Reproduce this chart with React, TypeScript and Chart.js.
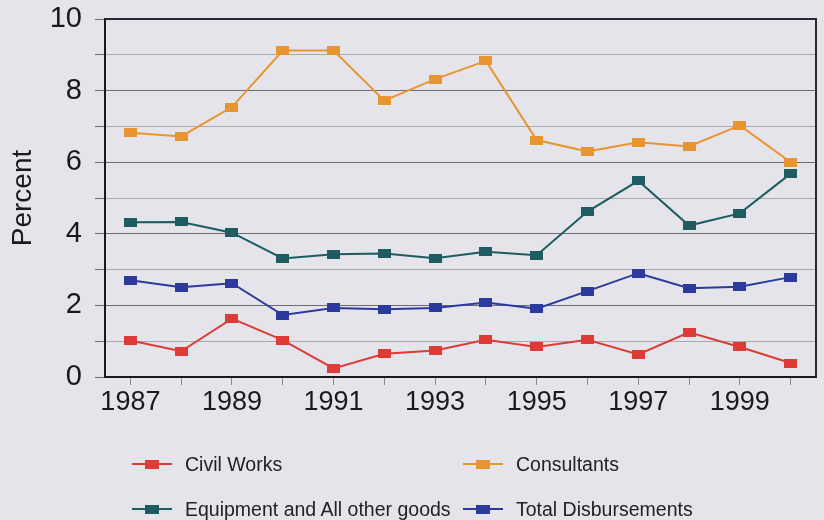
import React, { useEffect, useRef } from "react";
import { Chart, registerables } from "chart.js";

Chart.register(...registerables);

const years = ["1987","1988","1989","1990","1991","1992","1993","1994","1995","1996","1997","1998","1999","2000"];
const civilWorks = [1.02, 0.72, 1.63, 1.03, 0.24, 0.65, 0.74, 1.04, 0.84, 1.04, 0.63, 1.25, 0.84, 0.39];
const consultants = [6.82, 6.72, 7.54, 9.12, 9.12, 7.72, 8.32, 8.83, 6.62, 6.3, 6.56, 6.44, 7.03, 6.0];
const equipment = [4.32, 4.33, 4.03, 3.31, 3.43, 3.45, 3.32, 3.5, 3.4, 4.62, 5.48, 4.23, 4.57, 5.68];
const totalDisb = [2.7, 2.51, 2.62, 1.73, 1.93, 1.89, 1.93, 2.08, 1.91, 2.4, 2.9, 2.48, 2.52, 2.79];
const yTicks = [0, 2, 4, 6, 8, 10];

const seriesNames = ["Civil Works", "Consultants", "Equipment and All other goods", "Total Disbursements"];
const seriesColors = ["#de3b36", "#e8952f", "#1e5c62", "#2b3a9c"];

const BG = "#e4e4ea";
const FONT = "'Liberation Sans', Arial, Helvetica, sans-serif";

function makeRect(color: string, w: number, h: number) {
  const c = document.createElement("canvas");
  c.width = w;
  c.height = h;
  const g = c.getContext("2d")!;
  g.fillStyle = color;
  g.fillRect(0, 0, w, h);
  return c;
}

const framePlugin = {
  id: "frame",
  afterDatasetsDraw(chart: any) {
    const { ctx, chartArea } = chart;
    ctx.save();
    ctx.strokeStyle = "#2a2530";
    ctx.lineWidth = 2;
    ctx.beginPath();
    ctx.moveTo(chartArea.left, chartArea.top);
    ctx.lineTo(chartArea.right, chartArea.top);
    ctx.lineTo(chartArea.right, chartArea.bottom);
    ctx.stroke();
    ctx.restore();
  },
};

function LegendItem({ name, color, x, y }: { name: string; color: string; x: number; y: number }) {
  return (
    <div style={{ position: "absolute", left: x, top: y - 12, height: 24, display: "flex", alignItems: "center" }}>
      <div style={{ position: "relative", width: 40, height: 24, marginRight: 13 }}>
        <div style={{ position: "absolute", left: 0, top: 11, width: 40, height: 2, background: color }} />
        <div style={{ position: "absolute", left: 13, top: 7.5, width: 14, height: 9, background: color }} />
      </div>
      <span style={{ fontFamily: FONT, fontSize: 19.5, color: "#222", whiteSpace: "nowrap" }}>{name}</span>
    </div>
  );
}

export default function App() {
  const ref = useRef<HTMLCanvasElement | null>(null);

  useEffect(() => {
    if (!ref.current) return;
    const data = [civilWorks, consultants, equipment, totalDisb];
    const chart = new Chart(ref.current, {
      type: "line",
      data: {
        labels: years,
        datasets: data.map((d, i) => ({
          label: seriesNames[i],
          data: d,
          borderColor: seriesColors[i],
          backgroundColor: seriesColors[i],
          borderWidth: 2,
          pointStyle: makeRect(seriesColors[i], 13, 9) as any,
          pointRadius: 6,
          tension: 0,
        })),
      },
      options: {
        animation: false,
        responsive: false,
        devicePixelRatio: 1,
        layout: { padding: { left: 0, right: 6, top: 19, bottom: 0 } },
        plugins: { legend: { display: false }, tooltip: { enabled: false } },
        scales: {
          x: {
            type: "category",
            offset: true,
            grid: {
              offset: false,
              drawOnChartArea: false,
              drawTicks: true,
              tickLength: 8,
              tickColor: "#8a8a90",
            },
            border: { color: "#1a1a1a", width: 2 },
            ticks: {
              autoSkip: false,
              maxRotation: 0,
              padding: 1,
              color: "#1a1a1a",
              font: { family: FONT, size: 27 },
              callback: (_v: any, i: number) => (i % 2 === 0 ? years[i] : ""),
            },
            afterFit: (s: any) => {
              s.height = 143;
            },
          },
          y: {
            min: 0,
            max: 10,
            grid: {
              color: (c: any) => (c.tick && c.tick.value % 2 === 0 ? "#6c6c72" : "#a8a8b0"),
              lineWidth: 1,
              drawTicks: true,
              tickLength: 10,
              tickColor: "#6c6c72",
            },
            border: { color: "#1a1a1a", width: 2 },
            ticks: {
              stepSize: 1,
              autoSkip: false,
              padding: 13,
              color: "#1a1a1a",
              font: { family: FONT, size: 29 },
              callback: (v: any) => (yTicks.includes(Number(v)) ? String(v) : ""),
            },
            title: {
              display: true,
              text: "Percent",
              color: "#1a1a1a",
              font: { family: FONT, size: 28 },
              padding: { top: 6, bottom: 0 },
            },
            afterFit: (s: any) => {
              s.width = 105;
              s.paddingTop = 0;
              s.paddingBottom = 0;
            },
          },
        },
      },
      plugins: [framePlugin],
    });
    return () => chart.destroy();
  }, []);

  return (
    <div style={{ position: "absolute", left: 0, top: 0, width: 824, height: 520, background: BG, overflow: "hidden" }}>
      <canvas ref={ref} width={824} height={520} style={{ position: "absolute", left: 0, top: 0 }} />
      <LegendItem name={seriesNames[0]} color={seriesColors[0]} x={132} y={464} />
      <LegendItem name={seriesNames[1]} color={seriesColors[1]} x={463} y={464} />
      <LegendItem name={seriesNames[2]} color={seriesColors[2]} x={132} y={509} />
      <LegendItem name={seriesNames[3]} color={seriesColors[3]} x={463} y={509} />
    </div>
  );
}
